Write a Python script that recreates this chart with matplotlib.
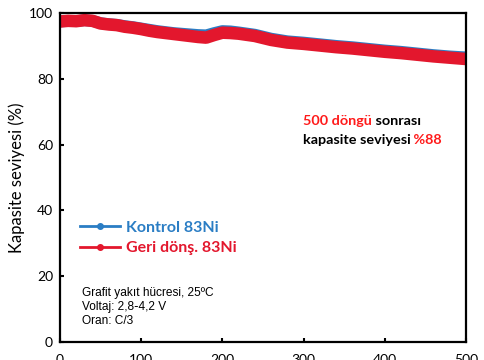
import matplotlib.pyplot as plt
from matplotlib.lines import Line2D

# cycle number vs capacity retention (%)
cycles = [0, 10, 20, 30, 40, 50, 60, 70, 80, 90, 100, 110, 120, 130, 140, 150,
          160, 170, 180, 190, 200, 210, 220, 240, 260, 280, 300, 320, 340, 360,
          380, 400, 420, 440, 460, 480, 500]
recycled = [97.4, 97.6, 97.5, 97.8, 97.6, 96.8, 96.5, 96.3, 95.8, 95.5, 95.1,
            94.6, 94.2, 93.9, 93.6, 93.3, 93.0, 92.7, 92.5, 93.3, 94.0, 93.9,
            93.7, 93.0, 91.8, 91.0, 90.6, 90.1, 89.6, 89.2, 88.7, 88.2, 87.8,
            87.3, 86.8, 86.4, 86.0]
control = [97.4, 97.6, 97.5, 97.8, 97.6, 96.9, 96.6, 96.4, 96.0, 95.7, 95.3,
           94.9, 94.5, 94.2, 93.9, 93.7, 93.5, 93.3, 93.2, 93.9, 94.5, 94.4,
           94.1, 93.4, 92.2, 91.4, 91.0, 90.5, 90.0, 89.6, 89.1, 88.6, 88.2,
           87.7, 87.2, 86.8, 86.5]

xticks = [0, 100, 200, 300, 400, 500]
yticks = [0, 20, 40, 60, 80, 100]

blue = '#2A7DC4'
red = '#E3172D'

fig = plt.figure(figsize=(4.85, 3.6), dpi=100)
ax = fig.add_axes([0.1237, 0.05, 0.837, 0.914])

ax.plot(cycles, control, color=blue, lw=8.5, solid_capstyle='butt')
ax.plot(cycles, recycled, color=red, lw=9, solid_capstyle='butt')

ax.set_xlim(0, 500)
ax.set_ylim(0, 100)
ax.set_xticks(xticks)
ax.set_yticks(yticks)
ax.tick_params(direction='in', length=3, width=1.5, labelsize=10)
ax.tick_params(axis='x', pad=9)
ax.tick_params(axis='y', pad=5)
for lab in ax.get_xticklabels() + ax.get_yticklabels():
    lab.set_family(['Lato', 'DejaVu Sans'])
for s in ax.spines.values():
    s.set_linewidth(1.6)

ax.set_ylabel('Kapasite seviyesi (%)', fontsize=12, family=['Lato', 'DejaVu Sans'], labelpad=3)

# legend
handles = [Line2D([], [], color=blue, lw=2, marker='o', ms=4),
           Line2D([], [], color=red, lw=2, marker='o', ms=4)]
ax.legend(handles, ['Kontrol 83Ni', 'Geri dönş. 83Ni'], loc='upper left',
          bbox_to_anchor=(0.03, 0.393), frameon=False, borderpad=0,
          handlelength=2.5, handletextpad=0.4, labelspacing=0.4,
          labelcolor=[blue, red],
          prop={'family': ['Lato', 'DejaVu Sans'], 'weight': 'bold', 'size': 11.5})

# annotation with mixed colours
fkw = dict(family=['Lato', 'DejaVu Sans'], weight='bold', fontsize=10.4)
t1 = ax.text(0.598, 0.672, '500 döngü', color='#FF1A1A', transform=ax.transAxes,
             va='center', **fkw)
ax.annotate(' sonrası', xy=(1, 0.5), xycoords=t1, va='center', color='black', **fkw)
t2 = ax.text(0.598, 0.614, 'kapasite seviyesi', color='black', transform=ax.transAxes,
             va='center', **fkw)
ax.annotate(' %88', xy=(1, 0.5), xycoords=t2, va='center', color='#FF1A1A', **fkw)

ax.text(0.054, 0.106, 'Grafit yakıt hücresi, 25ºC\nVoltaj: 2,8‑4,2 V\nOran: C/3',
        transform=ax.transAxes, va='center', ha='left', fontsize=8.6,
        linespacing=1.2, family=['Liberation Sans', 'DejaVu Sans'])

fig.savefig('out.png', dpi=100)
